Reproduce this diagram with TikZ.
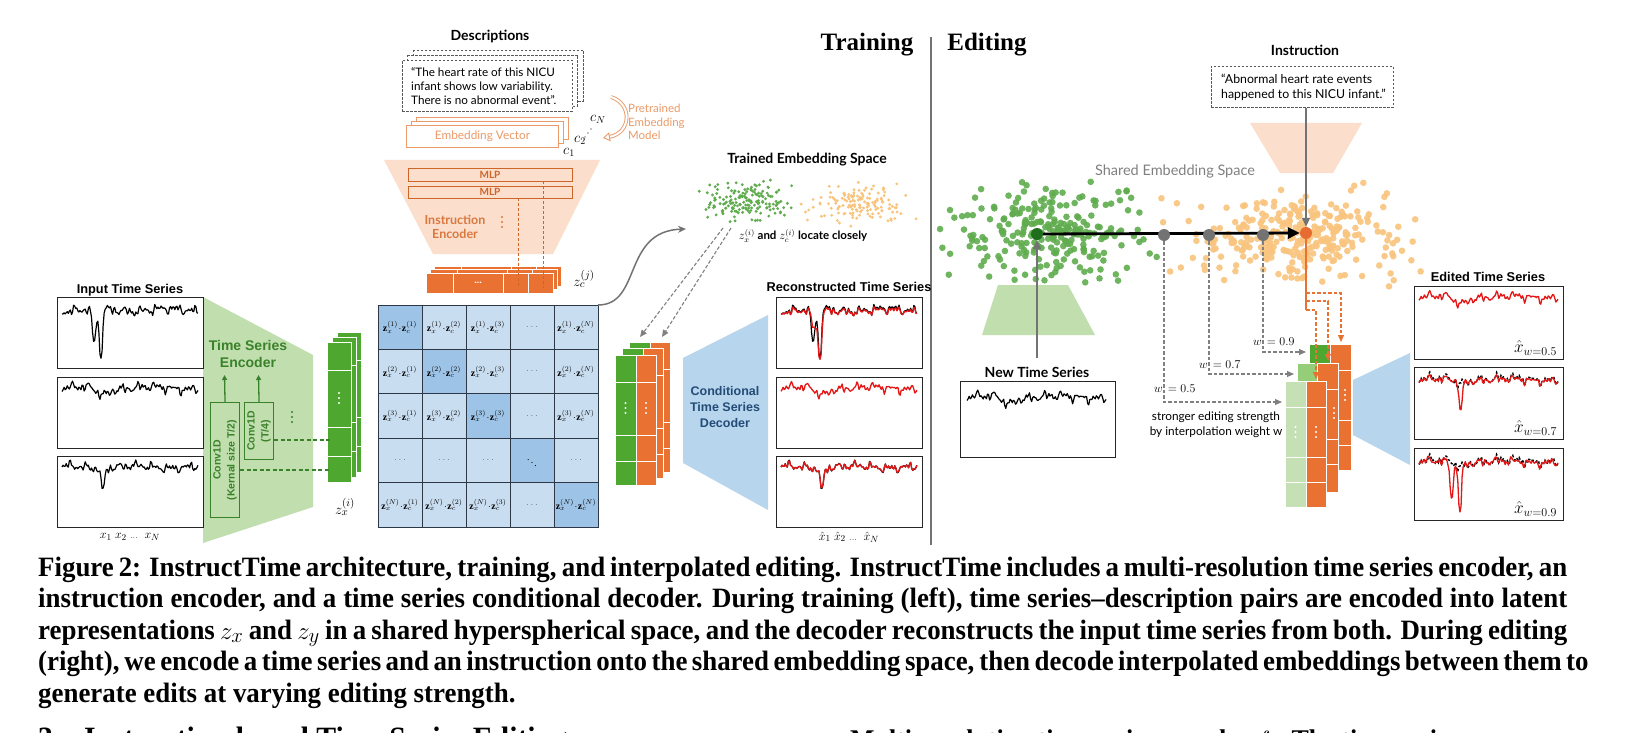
\documentclass[tikz,border=0pt]{standalone}
\usepackage{fontspec}
\setmainfont{Liberation Serif}
\newfontfamily\lato{Lato}
\newfontfamily\arial{Liberation Sans}
\newfontfamily\capfont[FakeStretch=0.96]{Liberation Serif}
\usetikzlibrary{arrows.meta,calc}
\newcommand\fsz[2]{\fontsize{#1}{#2}\selectfont}
\definecolor{ora}{RGB}{233,113,50}
\definecolor{lora}{RGB}{251,222,204}
\definecolor{tora}{RGB}{205,100,40}
\definecolor{iora}{RGB}{218,120,62}
\definecolor{pora}{RGB}{234,155,105}
\definecolor{gre}{RGB}{78,167,46}
\definecolor{mgre}{RGB}{150,205,120}
\definecolor{lgre}{RGB}{197,224,180}
\definecolor{tgre}{RGB}{58,130,42}
\definecolor{trapg}{RGB}{192,222,174}
\definecolor{lblu}{RGB}{200,221,240}
\definecolor{dblu}{RGB}{157,195,230}
\definecolor{bltrap}{RGB}{183,213,237}
\definecolor{tblu}{RGB}{36,76,118}
\definecolor{redl}{RGB}{228,22,22}
\definecolor{gdot}{RGB}{96,172,78}
\definecolor{odot}{RGB}{249,196,125}
\definecolor{gridc}{RGB}{45,55,70}
\definecolor{dgdot}{RGB}{30,110,30}
\definecolor{dodot}{RGB}{232,108,50}
\pgfmathdeclarefunction{nz}{2}{%
  \pgfmathparse{0.9*sin(2900*#1+170*#2)+0.7*sin(6100*#1+290*#2+40)+0.55*sin(9700*#1+410*#2+100)+0.5*sin(13300*#1+530*#2+200)+0.45*sin(15700*#1+110*#2+20)+0.6*sin(700*#1+230*#2+90)}%
}
\pgfmathdeclarefunction{dp}{3}{%
  \pgfmathparse{min(abs(#1-#2)/#3,8)}%
  \pgfmathparse{1/(1+\pgfmathresult*\pgfmathresult*\pgfmathresult*\pgfmathresult)}%
}
\newcommand\dip[3]{(#3)*dp(\x,#1,#2)}
\newcommand\ts[7]{\draw[#1] plot[samples=130,domain=0:1] ({#2+#3*\x},{#4+#5*nz(\x,#6)+#7});}
\newcommand\vdts[3]{\fill[#3] (#1,#2-5) circle (1.1pt) (#1,#2) circle (1.1pt) (#1,#2+5) circle (1.1pt);}
\tikzset{
 tsbox/.style={draw=black!85, line width=1.2, fill=white, minimum width=146, minimum height=71, inner sep=0, anchor=north west},
 tsblack/.style={black, line width=1.2, line join=round},
 tsred/.style={redl, line width=1.3, line join=round},
 tsdash/.style={black, line width=1.4, dash pattern=on 2.5pt off 2pt},
 dashbox/.style={draw=black!65, fill=white, line width=0.9, dash pattern=on 2.5pt off 1.5pt},
 embbox/.style={draw=pora, fill=white, line width=1},
 mlpbox/.style={draw=tora, line width=0.9, minimum width=164, inner sep=0, font=\lato\bfseries\fsz{10}{11}, text=tora},
 convbox/.style={draw=tgre, line width=1.1, inner sep=0, anchor=north west},
 lay/.style={draw=white, line width=0.7},
 mtitle/.style={font=\arial\bfseries\fsz{12.8}{15}},
 ltitle/.style={font=\lato\bfseries\fsz{14}{16}},
 cellt/.style={font=\fsz{9.8}{11}, inner sep=0},
 gdash/.style={draw=tgre, line width=1.1, dash pattern=on 4pt off 2.5pt},
 graydash/.style={draw=black!50, line width=1.1, dash pattern=on 3.5pt off 2pt, -{Triangle[length=7pt,width=6pt]}},
 odash/.style={draw=ora, line width=1.1, dash pattern=on 3.5pt off 2pt, -{Triangle[length=7pt,width=6pt]}},
 dotn/.style={circle, inner sep=0, minimum size=12},
 caplin/.style={anchor=base west, inner sep=0, font=\capfont\bfseries\fsz{28}{31}},
 wlab/.style={anchor=south east, inner sep=0, font=\fsz{17}{17}},
}
\begin{document}
\begin{tikzpicture}[x=1pt,y=-1pt]
\useasboundingbox (0,0) rectangle (1625,733);
\clip (0,0) rectangle (1625,733);
\fill[white] (0,0) rectangle (1625,733);

% ---------- titles and divider
\node[font=\bfseries\fsz{25}{30}] (ttrain) at (867,45) {Training};
\node[font=\bfseries\fsz{25}{30}] (tedit) at (987,45) {Editing};
\coordinate (divT) at (931,37); \coordinate (divB) at (931,545);
\draw[black!55, line width=1.8] (divT) -- (divB);

% ---------- descriptions
\node[ltitle] (desc) at (490,36) {Descriptions};
\draw[dashbox] (413,50) rectangle ++(170,51);
\draw[dashbox] (407.5,55) rectangle ++(170,51);
\node[dashbox, minimum width=170, minimum height=51, anchor=north west, inner sep=0] (descbox) at (402,60) {};
\node[anchor=west, align=left, inner sep=0, font=\lato\fsz{11.7}{13.8}] (desctext) at (411,86) {“The heart rate of this NICU\\infant shows low variability.\\There is no abnormal event”.};

% ---------- embedding vector
\draw[embbox] (416,118) rectangle ++(152,22);
\draw[embbox] (411,121.5) rectangle ++(152,22);
\node[embbox, minimum width=152, minimum height=22, anchor=north west, inner sep=0] (emb) at (406,125) {};
\node[font=\lato\fsz{11.8}{13}, text=pora] (embt) at (emb.center) {Embedding Vector};
\node[font=\fsz{14}{14}] (cN) at (598,119) {$c_N$};
\node[font=\fsz{14}{14}] (c2) at (580,140) {$c_2$};
\node[font=\fsz{14}{14}] (c1) at (569,152) {$c_1$};
\fill (585,137) circle (0.7pt) (588,133) circle (0.7pt) (591,129) circle (0.7pt);
\coordinate (parrA) at (611,97); \coordinate (parrB) at (603,138);
\draw[pora, line width=0.9, double=white, double distance=2pt, -{Triangle[open,length=7pt,width=9pt]}] (parrA) .. controls (633,104) and (631,133) .. (parrB);
\node[anchor=west, align=left, inner sep=0, font=\lato\fsz{11.5}{13.5}, text=pora] (ptext) at (628,122) {Pretrained\\Embedding\\Model};

% ---------- instruction encoder
\fill[lora] (384,160) -- (600,160) -- (553,254) -- (433,254) -- cycle;
\node[mlpbox, minimum height=13] (mlp1) at (490,174.5) {MLP};
\node[mlpbox, minimum height=12] (mlp2) at (490,192) {MLP};
\node[font=\lato\bfseries\fsz{12.5}{14.5}, text=iora, align=center] (ienc) at (455,227) {Instruction\\Encoder};
\vdts{502}{222}{iora}
% orange stack z_c
\foreach \d/\e in {8/7,4/3.5,0/0} {
  \filldraw[fill=ora, lay] (426+\d,273-\e) rectangle ++(127,20);
  \foreach \o in {27,77,102} \draw[white, line width=0.7] (426+\d+\o,273-\e) -- ++(0,20);
}
\node[inner sep=0, minimum width=127, minimum height=20, anchor=north west] (zcstack) at (426,273) {};
\node[text=white, font=\bfseries\fsz{10}{10}] (zcdots) at (478,283) {...};
\coordinate (dA) at (518,288); \coordinate (dB) at (543,288);
\draw[tora, line width=0.9, dash pattern=on 3pt off 2pt] (mlp2.south -| dA) -- (dA);
\draw[tora, line width=0.9, dash pattern=on 3pt off 2pt] (mlp1.south -| dB) -- (dB);
\node[font=\fsz{15}{15}] (zc) at (584,279) {$z_c^{(j)}$};

% ---------- input time series
\node[mtitle] (intitle) at (130,290) {Input Time Series};
\fill[trapg] (203,297) -- (313,355) -- (313,507) -- (203,543) -- cycle;
\node[tsbox] (in1) at (57,297) {};
\node[tsbox] (in2) at (57,377) {};
\node[tsbox] (in3) at (57,456) {};
\ts{tsblack}{62}{136}{310}{2.5}{0.00}{\dip{0.235}{0.016}{32}+\dip{0.285}{0.014}{47}}
\ts{tsblack}{62}{136}{388}{2.5}{0.37}{\dip{0.30}{0.05}{6}}
\ts{tsblack}{62}{136}{467}{2.3}{0.71}{\dip{0.30}{0.014}{23}}
\node[font=\fsz{12.5}{13}] (xlab) at (130,537) {$x_1\;x_2\;{\scriptstyle\ldots}\;\;x_N$};

% ---------- time series encoder
\node[font=\arial\bfseries\fsz{14}{17}, text=tgre, align=center] (tse) at (248,354) {Time Series\\Encoder};
\node[convbox, minimum width=29, minimum height=115] (conv1) at (210,402) {};
\node[convbox, minimum width=29, minimum height=57] (conv2) at (244,402) {};
\node[rotate=90, font=\arial\bfseries\fsz{10.5}{14}, text=tgre, align=center] (conv1t) at (conv1.center) {Conv1D\\(Kernal size T/2)};
\node[rotate=90, font=\arial\bfseries\fsz{10.5}{14}, text=tgre, align=center] (conv2t) at (conv2.center) {Conv1D\\(T/4)};
\coordinate (up1) at (224.5,375); \coordinate (up2) at (258.5,375);
\draw[tgre, line width=1.3, -{Triangle[length=5pt,width=5pt]}] (conv1.north) -- (up1);
\draw[tgre, line width=1.3, -{Triangle[length=5pt,width=5pt]}] (conv2.north) -- (up2);
\vdts{292}{417}{tgre}

% ---------- green stack z_x
\foreach \d in {10,5,0} {
  \filldraw[fill=gre, lay] (327+\d,342-\d) rectangle ++(24,140);
  \foreach \o in {28,85,114} \draw[white, line width=0.7] (327+\d,342-\d+\o) -- ++(24,0);
}
\node[inner sep=0, minimum width=24, minimum height=140, anchor=north west] (zxstack) at (327,342) {};
\vdts{339}{398}{white}
\coordinate (zxA) at (330,440); \coordinate (zxB) at (330,470);
\draw[gdash] (conv2.east |- zxA) -- (zxA);
\draw[gdash] (conv1.east |- zxB) -- (zxB);
\node[font=\fsz{15}{15}] (zx) at (345,507) {$z_x^{(i)}$};

% ---------- similarity matrix
\foreach \i in {0,...,4} \foreach \j in {0,...,4} {
  \pgfmathsetmacro\cx{378+44*\j} \pgfmathsetmacro\cy{305+44.4*\i}
  \ifnum\i=\j \def\cc{dblu}\else\def\cc{lblu}\fi
  \filldraw[fill=\cc, draw=gridc, line width=0.9] (\cx,\cy) rectangle ++(44,44.4);
}
\foreach \a [count=\i from 0] in {(1),(2),(3),X,(N)} {
 \foreach \b [count=\j from 0] in {(1),(2),(3),X,(N)} {
  \pgfmathsetmacro\cx{400+44*\j} \pgfmathsetmacro\cy{327.2+44.4*\i}
  \ifnum\i=3 \ifnum\j=3 \def\celltxt{$\ddots$}\else\def\celltxt{\textcolor{black!55}{$\cdots$}}\fi
  \else \ifnum\j=3 \def\celltxt{\textcolor{black!55}{$\cdots$}}\else\def\celltxt{$\mathbf{z}_x^{\a}\!\cdot\!\mathbf{z}_c^{\b}$}\fi\fi
  \node[cellt] (m\i\j) at (\cx,\cy) {\celltxt};
 }}
\coordinate (mtr) at (598,305);

% ---------- trained embedding space
\node[ltitle] (tes) at (807,160) {Trained Embedding Space};
\pgfmathsetseed{11}
\foreach \k in {1,...,150}{
 \pgfmathsetmacro\px{857+22*(rand+rand+rand)}
 \pgfmathsetmacro\py{205+9*(rand+rand+rand)}
 \fill[odot] (\px,\py) circle (1.6pt);
}
\foreach \k in {1,...,170}{
 \pgfmathsetmacro\px{745+20*(rand+rand+rand)}
 \pgfmathsetmacro\py{202+9*(rand+rand+rand)}
 \fill[gdot] (\px,\py) circle (1.6pt);
}
\node[font=\lato\bfseries\fsz{11.5}{13}] (loc) at (803,236) {$z_x^{(i)}$ and $z_c^{(i)}$ locate closely};
\coordinate (cur) at (686,229);
\draw[black!55, line width=1.5, -{Stealth[length=8pt,width=7pt]}] (mtr) .. controls (642,305) and (622,231) .. (cur);
\coordinate (dsA) at (723,228); \coordinate (dsB) at (731,228);
\coordinate (deA) at (640,337); \coordinate (deB) at (662,337);
\draw[graydash] (dsA) -- (deA);
\draw[graydash] (dsB) -- (deB);

% ---------- decoder stack
\foreach \d/\e in {14/13,7/6.5,0/0} {
  \filldraw[fill=gre, lay] (615+\d,355-\e) rectangle ++(21,130);
  \filldraw[fill=ora, lay] (636+\d,355-\e) rectangle ++(20,130);
  \foreach \o in {27,80,106} \draw[white, line width=0.7] (615+\d,355-\e+\o) -- ++(41,0);
}
\node[inner sep=0, minimum width=41, minimum height=130, anchor=north west] (decstack) at (615,355) {};
\vdts{625.5}{408}{white}
\vdts{646}{408}{white}
\fill[bltrap] (683,358) -- (768,315) -- (768,510) -- (683,463) -- cycle;
\node[font=\arial\bfseries\fsz{12.5}{16}, text=tblu, align=center] (dect) at (725,407) {Conditional\\Time Series\\Decoder};

% ---------- reconstructed time series
\node[mtitle] (rectitle) at (849,287) {Reconstructed Time Series};
\node[tsbox] (re1) at (776,297) {};
\node[tsbox] (re2) at (776,377) {};
\node[tsbox] (re3) at (776,456) {};
\ts{tsblack}{781}{136}{310}{2.5}{0.00}{\dip{0.235}{0.016}{32}+\dip{0.285}{0.014}{47}}
\ts{tsred}{781}{136}{311}{2.0}{0.00}{\dip{0.24}{0.02}{17}+\dip{0.285}{0.016}{47}}
\ts{tsred}{781}{136}{388}{2.3}{0.37}{\dip{0.30}{0.05}{6}}
\ts{tsblack}{781}{136}{467}{2.3}{0.71}{\dip{0.30}{0.014}{23}}
\ts{tsred}{781}{136}{467}{2.1}{0.71}{\dip{0.30}{0.014}{22}}
\node[font=\fsz{12.5}{13}] (xhlab) at (849,537) {$\hat{x}_1\;\hat{x}_2\;{\scriptstyle\ldots}\;\;\hat{x}_N$};

% ================= EDITING =================
\node[ltitle] (instt) at (1305,50) {Instruction};
\node[dashbox, minimum width=182, minimum height=41, anchor=north west, inner sep=0] (instbox) at (1211,66) {};
\node[anchor=west, align=left, inner sep=0, font=\lato\fsz{12.3}{15}] (insttext) at (1221,87.5) {“Abnormal heart rate events\\happened to this NICU infant.”};
\fill[lora] (1250,123) -- (1362,123) -- (1333,173) -- (1280,173) -- cycle;
\fill[trapg] (998,285) -- (1068,285) -- (1095,335) -- (982,335) -- cycle;
\node[font=\lato\fsz{14.5}{16}, text=black!50] (ses) at (1175,171) {Shared Embedding Space};
\pgfmathsetseed{5}
\foreach \k in {1,...,300}{
 \pgfmathsetmacro\px{1298+52*(rand+rand+rand)}
 \pgfmathsetmacro\py{234+21*(rand+rand+rand)}
 \fill[odot, opacity=0.9] (\px,\py) circle (3.3pt);
}
\foreach \k in {1,...,250}{
 \pgfmathsetmacro\px{1057+45*(rand+rand+rand)}
 \pgfmathsetmacro\py{233+21*(rand+rand+rand)}
 \fill[gdot, opacity=0.9] (\px,\py) circle (3.3pt);
}
% new time series
\node[font=\lato\bfseries\fsz{14}{16}] (newt) at (1037,372) {New Time Series};
\node[tsbox, minimum width=155, minimum height=76] (newbox) at (960,381) {};
\ts{tsblack}{967}{139}{397}{2.5}{0.37}{\dip{0.30}{0.05}{6}}
% dots and arrows
\node[dotn, fill=dgdot] (gd) at (1037,234) {};
\node[dotn, fill=dodot] (od) at (1306,233) {};
\draw[black, line width=2.8, -{Triangle[length=12pt,width=11pt]}] (gd) -- (od.west);
\node[dotn, fill=black!55] (g1) at (1164,235) {};
\node[dotn, fill=black!55] (g2) at (1209,235) {};
\node[dotn, fill=black!55] (g3) at (1263,235) {};
\coordinate (nta) at (1037,358);
\draw[black!55, line width=1.8, -{Triangle[length=9pt,width=8pt]}] (nta) -- (gd.south);
\draw[black!55, line width=1.8, -{Triangle[length=9pt,width=8pt]}] (instbox.south -| od) -- (od.north);

% edited stack
\fill[bltrap] (1353,380) -- (1410,353) -- (1410,465) -- (1353,435) -- cycle;
\filldraw[fill=gre, lay] (1309,344) rectangle ++(21,126);
\filldraw[fill=ora, lay] (1330,344) rectangle ++(21,126);
\foreach \o in {26,76,101} \draw[white, line width=0.7] (1309,344+\o) -- ++(42,0);
\filldraw[fill=mgre, lay] (1297,363) rectangle ++(20,129);
\filldraw[fill=ora, lay] (1317,363) rectangle ++(21,129);
\foreach \o in {26,76,101} \draw[white, line width=0.7] (1297,363+\o) -- ++(41,0);
\filldraw[fill=lgre, lay] (1285,381) rectangle ++(21,126);
\filldraw[fill=ora, lay] (1306,381) rectangle ++(20,126);
\foreach \o in {26,76,101} \draw[white, line width=0.7] (1285,381+\o) -- ++(41,0);
\node[inner sep=0, minimum width=41, minimum height=126, anchor=north west] (edstack) at (1285,381) {};
\vdts{1295.5}{432}{white}
\vdts{1316}{432}{white}
\vdts{1334}{413}{white}
\vdts{1345}{395}{white}
% interpolation arrows
\coordinate (e1) at (1282,402); \coordinate (e2) at (1294,374); \coordinate (e3) at (1306,352);
\draw[graydash] (g1) |- (e1);
\draw[graydash] (g2) |- (e2);
\draw[graydash] (g3) |- (e3);
\node[anchor=base west, inner sep=0, font=\fsz{12.5}{13}] (w5) at (1154,392) {$w$\hspace{5pt}$=0.5$};
\node[anchor=base west, inner sep=0, font=\fsz{12.5}{13}] (w7) at (1199,368) {$w$\hspace{5pt}$=0.7$};
\node[anchor=base west, inner sep=0, font=\fsz{12.5}{13}] (w9) at (1253,345) {$w$\hspace{5pt}$=0.9$};
\node[font=\lato\fsz{11.8}{15}, align=center] (strong) at (1216,425) {stronger editing strength\\by interpolation weight w};
\coordinate (ob) at (1306,310);
\draw[ora, line width=1.5] (od.south) -- (ob);
\coordinate (ob1) at (1306,293); \coordinate (ob2) at (1306,301);
\coordinate (oe1) at (1341,342); \coordinate (oe2) at (1328,361); \coordinate (oe3) at (1316,379);
\draw[odash] (ob1) -| (oe1);
\draw[odash] (ob2) -| (oe2);
\draw[odash] (ob) -| (oe3);

% edited time series
\node[mtitle] (edtitle) at (1488,277) {Edited Time Series};
\node[tsbox, minimum width=149, minimum height=73] (ed1) at (1414,286) {};
\node[tsbox, minimum width=149, minimum height=72] (ed2) at (1414,367) {};
\node[tsbox, minimum width=149, minimum height=72] (ed3) at (1414,448) {};
\ts{tsred}{1419}{139}{297}{2.3}{0.37}{\dip{0.30}{0.05}{6}}
\ts{tsdash}{1419}{139}{379}{2.5}{0.37}{\dip{0.30}{0.05}{4}}
\ts{tsred}{1419}{139}{380}{2.0}{0.41}{\dip{0.30}{0.014}{30}}
\ts{tsdash}{1419}{139}{461}{2.5}{0.37}{\dip{0.30}{0.05}{5}}
\ts{tsred}{1419}{139}{462}{2.2}{0.52}{\dip{0.235}{0.014}{33}+\dip{0.295}{0.013}{50}}
\node[wlab] (xw5) at ($(ed1.south east)+(-7,-5)$) {$\hat{x}_{w=0.5}$};
\node[wlab] (xw7) at ($(ed2.south east)+(-7,-5)$) {$\hat{x}_{w=0.7}$};
\node[wlab] (xw9) at ($(ed3.south east)+(-7,-5)$) {$\hat{x}_{w=0.9}$};

% ---------- caption
\node[caplin] (cap1) at (38,576) {\makebox[1529pt][s]{Figure 2: InstructTime architecture, training, and interpolated editing. InstructTime includes a multi-resolution time series encoder, an}};
\node[caplin] (cap2) at (38,607.5) {\makebox[1529pt][s]{instruction encoder, and a time series conditional decoder. During training (left), time series–description pairs are encoded into latent}};
\node[caplin] (cap3) at (38,639) {\makebox[1529pt][s]{representations $z_x$ and $z_y$ in a shared hyperspherical space, and the decoder reconstructs the input time series from both. During editing}};
\node[caplin] (cap4) at (38,670.5) {\makebox[1529pt][s]{(right), we encode a time series and an instruction onto the shared embedding space, then decode interpolated embeddings between them to}};
\node[caplin] (cap5) at (38,702) {generate edits at varying editing strength.};
\node[anchor=base west, inner sep=0, font=\capfont\bfseries\fsz{31}{34}] (sec) at (38,748) {3\quad Instruction-based Time Series Editing};
\node[anchor=base west, inner sep=0, font=\capfont\bfseries\fsz{27}{30}] (para) at (850,748) {Multi-resolution time series encoder $f_\theta$. The time series};
\end{tikzpicture}
\end{document}
